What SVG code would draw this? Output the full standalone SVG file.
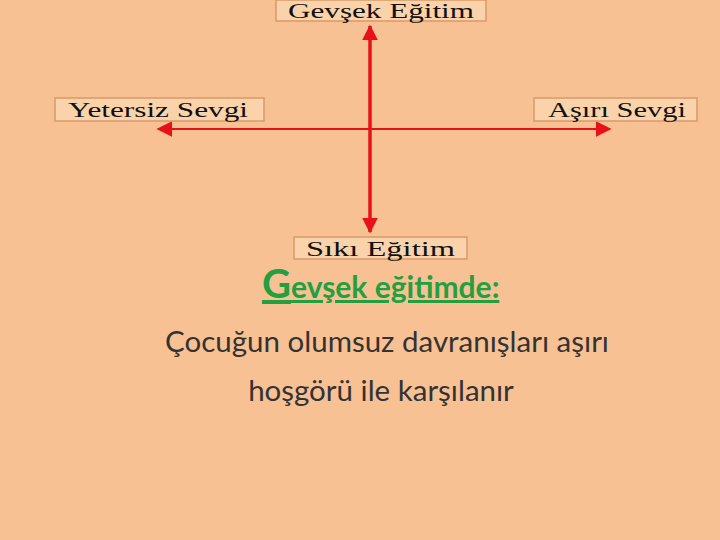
<svg xmlns="http://www.w3.org/2000/svg" width="720" height="540" viewBox="0 0 720 540">
<defs>
<style>
.box{fill:#FBD3AA;stroke:#D8996A;stroke-width:1.5}
.lbl{font-family:"Liberation Serif",serif;font-size:20px;fill:#111}
.ln{stroke:#E8111A;fill:none}
.body{font-family:Lato,"Open Sans",sans-serif;font-size:29.5px;fill:#333;text-anchor:middle}
.hd{font-family:Lato,"Open Sans",sans-serif;fill:#22A03F;font-weight:bold}
</style>
<marker id="ah2" viewBox="0 0 10 10" refX="9" refY="5" markerWidth="16" markerHeight="16" markerUnits="userSpaceOnUse" orient="auto-start-reverse"><path d="M0,0 L10,5 L0,10 z" fill="#E8111A"/></marker>
</defs>
<rect width="720" height="540" fill="#F8C193"/>
<g id="connectors">
<line class="ln" x1="370" y1="26" x2="370" y2="232" stroke-width="3.5" marker-start="url(#ah2)" marker-end="url(#ah2)"/>
<line class="ln" x1="158" y1="129" x2="610" y2="129" stroke-width="2" marker-start="url(#ah2)" marker-end="url(#ah2)"/>
</g>
<g id="top"><rect class="box" x="276" y="0" width="210" height="21"/><text class="lbl" x="288" y="18" textLength="186" lengthAdjust="spacingAndGlyphs">Gevşek Eğitim</text></g>
<g id="left"><rect class="box" x="55" y="98" width="209" height="23"/><text class="lbl" x="68" y="117" textLength="180" lengthAdjust="spacingAndGlyphs">Yetersiz Sevgi</text></g>
<g id="right"><rect class="box" x="534" y="98" width="163" height="23"/><text class="lbl" x="548" y="117" textLength="138" lengthAdjust="spacingAndGlyphs">Aşırı Sevgi</text></g>
<g id="bottom"><rect class="box" x="294" y="237" width="173" height="22"/><text class="lbl" x="306" y="256" textLength="149" lengthAdjust="spacingAndGlyphs">Sıkı Eğitim</text></g>
<text class="hd" x="262" y="298" text-decoration="underline"><tspan font-size="40">G</tspan><tspan font-size="30">evşek eğitimde:</tspan></text>
<text class="body" x="387" y="352">Çocuğun olumsuz davranışları aşırı</text>
<text class="body" x="381" y="401">hoşgörü ile karşılanır</text>
</svg>
